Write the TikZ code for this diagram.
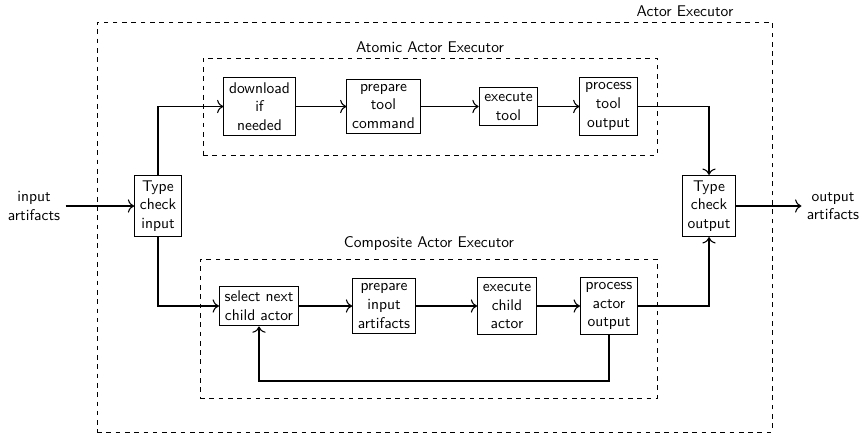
\documentclass[tikz,border=0pt]{standalone}
\usetikzlibrary{fit,arrows.meta}
\begin{document}
\begin{tikzpicture}[x=0.645pt,y=-0.645pt,
  every node/.style={font=\sffamily},
  proc/.style={draw,line width=0.65pt,align=center,fill=white},
  plain/.style={align=center},
  dashbox/.style={draw,dashed,line width=0.5pt,inner sep=0pt},
  conn/.style={-{To[scale=1.3]},line width=0.7pt}]
\useasboundingbox (0,0) rectangle (865,435);
% containers
\node[dashbox,fit={(97,22) (772,432)}] (outer) {};
\node[dashbox,fit={(203,58) (657,155)}] (atomic) {};
\node[dashbox,fit={(200,259) (657,398)}] (comp) {};
\node[plain] (outerlbl) at (685,11) {Actor Executor};
\node[plain] (atomiclbl) at (430,47) {Atomic Actor Executor};
\node[plain] (complbl) at (429,244) {Composite Actor Executor};
% outer nodes
\node[plain] (in) at (34,206) {input\\artifacts};
\node[proc] (tci) at (158,206) {Type\\check\\input};
\node[proc] (tco) at (709,206) {Type\\check\\output};
\node[plain] (out) at (833,206) {output\\artifacts};
% atomic
\node[proc] (dl) at (259.5,106.5) {download\\if\\needed};
\node[proc] (ptc) at (383.5,106.5) {prepare\\tool\\command};
\node[proc] (et) at (508.5,106.5) {execute\\tool};
\node[proc] (pto) at (608.5,106.5) {process\\tool\\output};
% composite
\node[proc] (sel) at (259,306) {select next\\child actor};
\node[proc] (pia) at (384,306) {prepare\\input\\artifacts};
\node[proc] (eca) at (507,306) {execute\\child\\actor};
\node[proc] (pao) at (609,306) {process\\actor\\output};
\coordinate (loopy) at (0,381);
% connectors
\draw[conn] (in.east) -- (tci.west);
\draw[conn] (tci.north) |- (dl.west);
\draw[conn] (tci.south) |- (sel.west);
\draw[conn] (dl) -- (ptc);
\draw[conn] (ptc) -- (et);
\draw[conn] (et) -- (pto);
\draw[conn] (pto.east) -| (tco.north);
\draw[conn] (sel) -- (pia);
\draw[conn] (pia) -- (eca);
\draw[conn] (eca) -- (pao);
\draw[conn] (pao.east) -| (tco.south);
\draw[conn] (pao.south) -- (pao.south |- loopy) -| (sel.south);
\draw[conn] (tco.east) -- (out.west);
\end{tikzpicture}
\end{document}
